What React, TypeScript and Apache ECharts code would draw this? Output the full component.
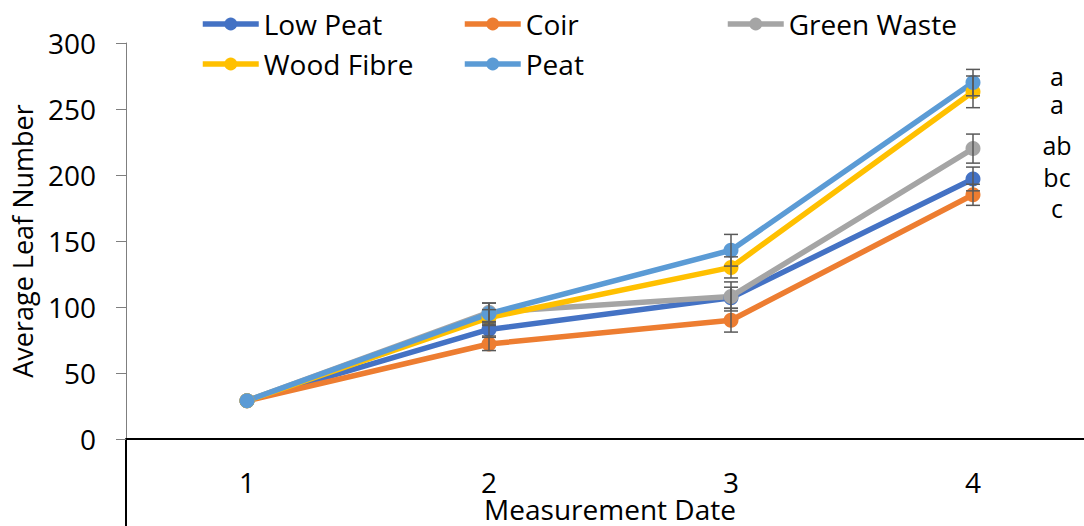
import React, { useEffect, useRef } from "react";
import * as echarts from "echarts";

// Measurement dates (category axis)
const categories = ["1", "2", "3", "4"];

// Average leaf number per growing medium
const lowPeat = [29, 83, 107, 197];
const coir = [29, 72, 90, 185];
const greenWaste = [29, 96, 108, 220];
const woodFibre = [29, 92, 130, 263];
const peat = [29, 95, 143, 270];

// Standard errors
const lowPeatErr = [0, 5, 8, 9];
const coirErr = [0, 5, 9, 8];
const greenWasteErr = [0, 7, 11, 11];
const woodFibreErr = [0, 6, 8, 12];
const peatErr = [0, 8, 12, 10];

// Significance letters at the last date (top to bottom)
const sigLetters = ["a", "a", "ab", "bc", "c"];

const FONT = "Open Sans";

const seriesDefs = [
  { name: "Low Peat", color: "#4472C4", values: lowPeat, err: lowPeatErr },
  { name: "Coir", color: "#ED7D31", values: coir, err: coirErr },
  { name: "Green Waste", color: "#A5A5A5", values: greenWaste, err: greenWasteErr },
  { name: "Wood Fibre", color: "#FFC000", values: woodFibre, err: woodFibreErr },
  { name: "Peat", color: "#5B9BD5", values: peat, err: peatErr },
];

export default function App() {
  const ref = useRef<HTMLDivElement>(null);

  useEffect(() => {
    if (!ref.current) return;
    const chart = echarts.init(ref.current, undefined, { renderer: "svg" });

    const lineSeries = seriesDefs.map((s) => ({
      name: s.name,
      type: "line",
      data: s.values,
      symbol: "circle",
      symbolSize: 15,
      lineStyle: { color: s.color, width: 5.5 },
      itemStyle: { color: s.color },
      z: 2,
    }));

    const errData: number[][] = [];
    seriesDefs.forEach((s) => {
      s.values.forEach((v, i) => {
        if (s.err[i] > 0) errData.push([i, v - s.err[i], v + s.err[i]]);
      });
    });

    const errSeries = {
      type: "custom",
      name: "err",
      z: 5,
      silent: true,
      data: errData,
      encode: { x: 0, y: [1, 2] },
      renderItem: (params: any, api: any) => {
        const lo = api.coord([api.value(0), api.value(1)]);
        const hi = api.coord([api.value(0), api.value(2)]);
        const hw = 7;
        const style = { stroke: "#595959", lineWidth: 1.5 };
        return {
          type: "group",
          children: [
            { type: "line", shape: { x1: lo[0], y1: lo[1], x2: hi[0], y2: hi[1] }, style },
            { type: "line", shape: { x1: lo[0] - hw, y1: lo[1], x2: lo[0] + hw, y2: lo[1] }, style },
            { type: "line", shape: { x1: hi[0] - hw, y1: hi[1], x2: hi[0] + hw, y2: hi[1] }, style },
          ],
        };
      },
    };

    const letterY = [76, 104, 145, 177, 208];

    const legendCommon = {
      orient: "vertical",
      padding: 0,
      itemWidth: 56,
      itemHeight: 16,
      itemGap: 10,
      lineStyle: { width: 5.5 },
      textStyle: { fontFamily: FONT, fontSize: 28, color: "#000", lineHeight: 30 },
    };

    chart.setOption({
      animation: false,
      textStyle: { fontFamily: FONT },
      legend: [
        { ...legendCommon, left: 200, top: 9, data: ["Low Peat", "Wood Fibre"] },
        { ...legendCommon, left: 462, top: 9, data: ["Coir", "Peat"] },
        { ...legendCommon, left: 725, top: 9, data: ["Green Waste"] },
      ],
      grid: { left: 126, top: 43, width: 968, height: 396, outerBoundsMode: "none", containLabel: false },
      xAxis: {
        type: "category",
        data: categories,
        boundaryGap: true,
        axisLine: { lineStyle: { color: "#000", width: 2 } },
        axisTick: { show: false },
        axisLabel: { fontFamily: FONT, fontSize: 28, lineHeight: 22, color: "#000", margin: 32 },
        name: "Measurement Date",
        nameLocation: "middle",
        nameGap: 60,
        nameMoveOverlap: false,
        nameTextStyle: { fontFamily: FONT, fontSize: 28, lineHeight: 20, color: "#000" },
      },
      yAxis: {
        type: "value",
        min: 0,
        max: 300,
        interval: 50,
        splitLine: { show: false },
        axisLine: { show: true, lineStyle: { color: "#7f7f7f", width: 1 } },
        axisTick: { show: true, length: 10, lineStyle: { color: "#7f7f7f" } },
        axisLabel: { fontFamily: FONT, fontSize: 28, color: "#000", margin: 30 },
        name: "Average Leaf Number",
        nameLocation: "middle",
        nameGap: 90,
        nameMoveOverlap: false,
        nameTextStyle: { fontFamily: FONT, fontSize: 27, color: "#000" },
      },
      graphic: [
        {
          type: "line",
          shape: { x1: 126, y1: 440, x2: 126, y2: 526 },
          style: { stroke: "#000", lineWidth: 2 },
        },
        ...sigLetters.map((t, i) => ({
          type: "text",
          x: 1057,
          y: letterY[i],
          style: {
            text: t,
            fontFamily: FONT,
            fontSize: 25,
            lineHeight: 22,
            fill: "#000",
            align: "center",
            verticalAlign: "middle",
          },
        })),
      ],
      series: [...lineSeries, errSeries],
    });

    return () => chart.dispose();
  }, []);

  return (
    <div
      ref={ref}
      style={{ position: "fixed", left: 0, top: 0, width: 1084, height: 526, background: "#fff" }}
    />
  );
}
